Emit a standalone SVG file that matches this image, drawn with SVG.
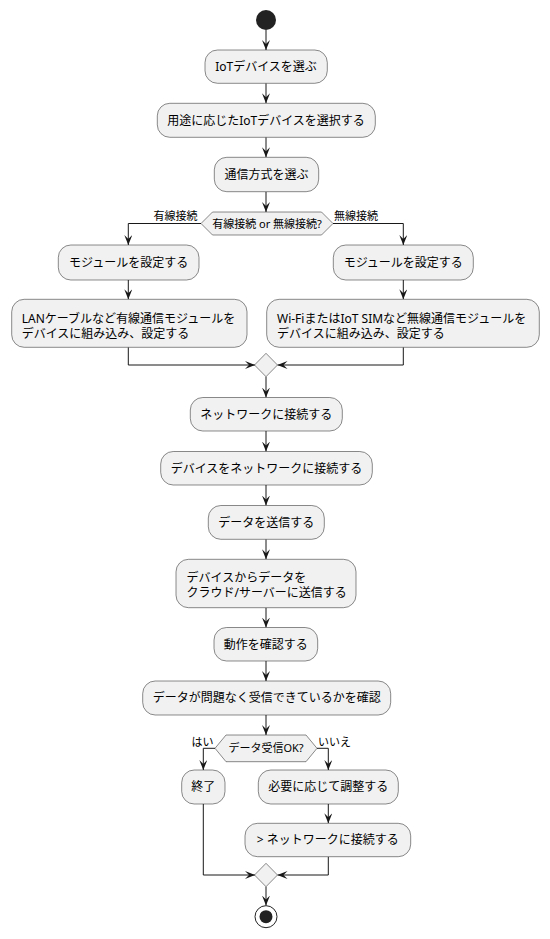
<svg xmlns="http://www.w3.org/2000/svg" width="550" height="939" viewBox="0 0 550 939">
<style>
.box{fill:#F1F1F1;stroke:#181818;stroke-width:0.5}
.t{font-family:'Noto Sans','Noto Sans CJK JP',sans-serif;font-size:12px;fill:#000}
.s{font-family:'Noto Sans','Noto Sans CJK JP',sans-serif;font-size:11px;fill:#000}
.c{text-anchor:middle}
.e{text-anchor:end}
.ln{fill:none;stroke:#181818;stroke-width:1;marker-end:url(#ah)}
</style>
<defs>
<marker id="ah" viewBox="0 0 10 8" refX="10" refY="4" markerWidth="10" markerHeight="8" markerUnits="userSpaceOnUse" orient="auto">
<path d="M0,0 L10,4 L0,8 L4,4 Z" fill="#181818"/>
</marker>
</defs>
<rect width="550" height="939" fill="#FFFFFF"/>
<g id="connectors">
<path class="ln" d="M266,30 V50"/>
<path class="ln" d="M266,83.3 V103.3"/>
<path class="ln" d="M266,137.3 V157.3"/>
<path class="ln" d="M266,191.7 V212"/>
<path class="ln" d="M201,223.5 H128.3 V245"/>
<path class="ln" d="M333,223.5 H403.3 V245"/>
<path class="ln" d="M128.3,280 V299.3"/>
<path class="ln" d="M403.3,280 V299.3"/>
<path class="ln" d="M128.3,347.3 V365 H255"/>
<path class="ln" d="M403.3,347.3 V365 H277.5"/>
<path class="ln" d="M266,376.7 V397.5"/>
<path class="ln" d="M266,431 V451.5"/>
<path class="ln" d="M266,485 V505.5"/>
<path class="ln" d="M266,539.3 V559.3"/>
<path class="ln" d="M266,607.7 V627.5"/>
<path class="ln" d="M266,661 V681"/>
<path class="ln" d="M266,715 V735"/>
<path class="ln" d="M215,748.3 H203.3 V770"/>
<path class="ln" d="M317,748.3 H328.3 V770"/>
<path class="ln" d="M328.3,804 V823.3"/>
<path class="ln" d="M203.3,804 V875 H255"/>
<path class="ln" d="M328.3,856.7 V875 H277.5"/>
<path class="ln" d="M266,886.7 V905.5"/>
<text class="s e" x="197.5" y="220">有線接続</text>
<text class="s" x="334" y="220">無線接続</text>
<text class="s e" x="213.5" y="745.5">はい</text>
<text class="s" x="318" y="745.5">いいえ</text>
</g>
<g id="start"><circle cx="266" cy="20" r="10" fill="#222222"/></g>
<g id="n1"><rect class="box" x="205" y="50" width="122.3" height="33.3" rx="12.5"/><text class="t c" x="266" y="71.2">IoTデバイスを選ぶ</text></g>
<g id="n2"><rect class="box" x="157.3" y="103.3" width="218" height="34" rx="12.5"/><text class="t c" x="266" y="124.7">用途に応じたIoTデバイスを選択する</text></g>
<g id="n3"><rect class="box" x="214.3" y="157.3" width="104.4" height="34.4" rx="12.5"/><text class="t c" x="266.5" y="178.9">通信方式を選ぶ</text></g>
<g id="d1"><polygon class="box" points="201,223.5 212.5,212 321.5,212 333,223.5 321.5,235 212.5,235"/><text class="s c" x="267" y="227.5">有線接続 or 無線接続?</text></g>
<g id="n4"><rect class="box" x="58.3" y="245" width="140.7" height="35" rx="12.5"/><text class="t c" x="128.7" y="267">モジュールを設定する</text></g>
<g id="n5"><rect class="box" x="333.3" y="245" width="140" height="35" rx="12.5"/><text class="t c" x="403.3" y="267">モジュールを設定する</text></g>
<g id="n6"><rect class="box" x="11.7" y="299.3" width="235.3" height="48" rx="12.5"/><text class="t" x="21.7" y="322.5">LANケーブルなど有線通信モジュールを<tspan x="21.7" dy="15">デバイスに組み込み、設定する</tspan></text></g>
<g id="n7"><rect class="box" x="266.7" y="299.3" width="272.6" height="48" rx="12.5"/><text class="t" x="277" y="322.5">Wi-FiまたはIoT SIMなど無線通信モジュールを<tspan x="277" dy="15">デバイスに組み込み、設定する</tspan></text></g>
<g id="m1"><polygon class="box" points="266,353.3 277.5,365 266,376.7 254.5,365"/></g>
<g id="n8"><rect class="box" x="190.3" y="397.5" width="152" height="33.5" rx="12.5"/><text class="t c" x="266.3" y="418.6">ネットワークに接続する</text></g>
<g id="n9"><rect class="box" x="160.7" y="451.5" width="211.6" height="33.5" rx="12.5"/><text class="t c" x="266.5" y="472.6">デバイスをネットワークに接続する</text></g>
<g id="n10"><rect class="box" x="208.3" y="505.5" width="116" height="33.8" rx="12.5"/><text class="t c" x="266.3" y="526.8">データを送信する</text></g>
<g id="n11"><rect class="box" x="176" y="559.3" width="180" height="48.4" rx="12.5"/><text class="t" x="186.5" y="581.5">デバイスからデータを<tspan x="186.5" dy="15">クラウド/サーバーに送信する</tspan></text></g>
<g id="n12"><rect class="box" x="214" y="627.5" width="103.7" height="33.5" rx="12.5"/><text class="t c" x="265.8" y="648.6">動作を確認する</text></g>
<g id="n13"><rect class="box" x="142.7" y="681" width="248" height="34" rx="12.5"/><text class="t c" x="266.7" y="702.4">データが問題なく受信できているかを確認</text></g>
<g id="d2"><polygon class="box" points="215,748.3 226,735 306,735 317,748.3 306,761.7 226,761.7"/><text class="s c" x="266" y="752.3">データ受信OK?</text></g>
<g id="n14"><rect class="box" x="181.7" y="770" width="43.3" height="34" rx="12.5"/><text class="t c" x="203.3" y="791.4">終了</text></g>
<g id="n15"><rect class="box" x="258.3" y="770" width="140" height="34" rx="12.5"/><text class="t c" x="328.3" y="791.4">必要に応じて調整する</text></g>
<g id="n16"><rect class="box" x="245" y="823.3" width="165.7" height="33.4" rx="12.5"/><text class="t c" x="327.8" y="844.4">&gt; ネットワークに接続する</text></g>
<g id="m2"><polygon class="box" points="266,863.3 277.5,875 266,886.7 254.5,875"/></g>
<g id="end"><circle cx="266" cy="916.7" r="11" fill="#FFFFFF" stroke="#222222" stroke-width="1"/><circle cx="266" cy="916.7" r="6.5" fill="#222222"/></g>
</svg>
